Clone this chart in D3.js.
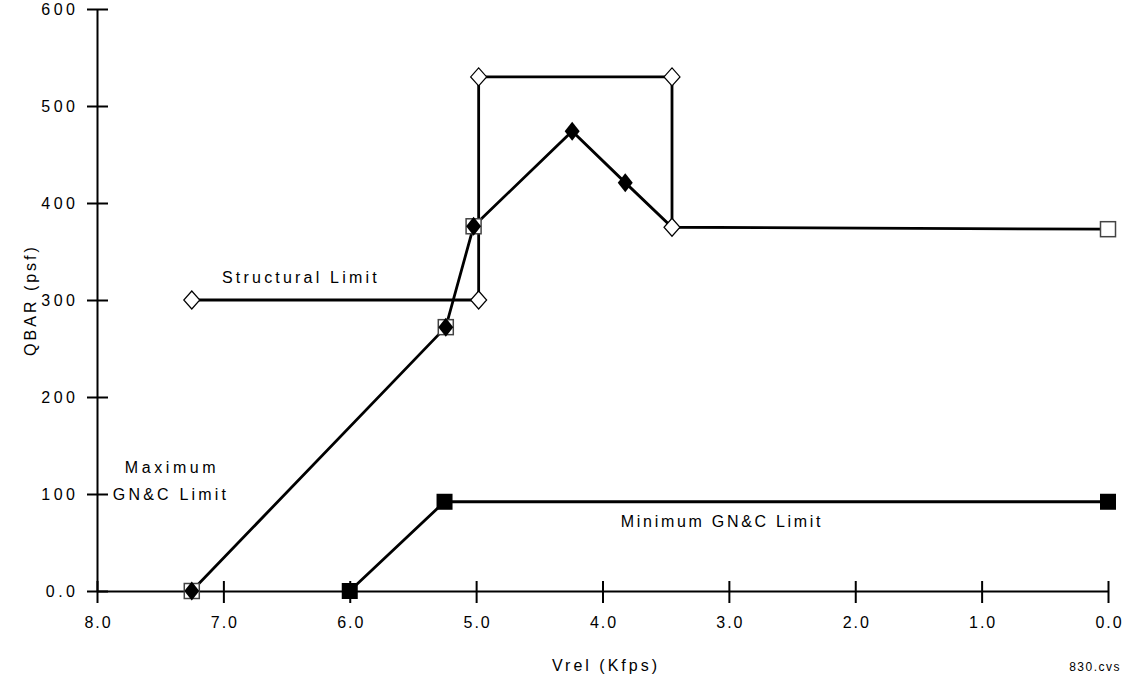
<!DOCTYPE html>
<html><head><meta charset="utf-8">
<script src="https://cdn.jsdelivr.net/npm/d3@7"></script>
<style>
body{margin:0;background:#fff}
text{font-family:"Liberation Sans",Arial,sans-serif;fill:#000}
</style>
</head><body><svg id="c" width="1131" height="678"></svg>
<script>
// ---- data ----
const xTicks = [8, 7, 6, 5, 4, 3, 2, 1, 0];
const yTicks = [0, 100, 200, 300, 400, 500, 600];

const structV = [7.25, 4.98, 4.98, 3.45, 3.45];
const structQ = [300, 300, 530, 530, 375];

const maxV = [7.25, 5.24, 5.02, 4.24, 3.82, 3.45, 0];
const maxQ = [0, 272, 376, 474, 421, 375, 373];
const maxSquareV = [7.25, 5.24, 5.02, 0];
const maxSquareQ = [0, 272, 376, 373];
const maxDiamondV = [7.25, 5.24, 5.02, 4.24, 3.82];
const maxDiamondQ = [0, 272, 376, 474, 421];

const minV = [6.0, 5.25, 0];
const minQ = [0, 92, 92];

const labels = ["Structural Limit", "Maximum", "GN&C Limit", "Minimum GN&C Limit"];

// ---- chart ----
const svg = d3.select("#c");
const x = d3.scaleLinear().domain([8, 0]).range([97, 1108]);
const y = d3.scaleLinear().domain([0, 600]).range([591, 9]);

const fmtY = d => d === 0 ? "0.0" : d3.format("d")(d);
const FF = '"Liberation Sans",Arial,sans-serif';

// x axis
const xls = 2;
const gx = svg.append("g").attr("transform", `translate(0,${y(0)})`)
  .call(d3.axisBottom(x).tickValues(xTicks).tickFormat(d3.format(".1f")).tickSizeOuter(0).tickSize(0));
gx.select(".domain").attr("stroke", "#000").attr("stroke-width", 2);
gx.selectAll(".tick line").attr("y1", -10).attr("y2", 12).attr("stroke", "#000").attr("stroke-width", 2);
gx.selectAll(".tick text").attr("y", 37).attr("dy", 0).attr("x", xls / 2).attr("font-size", 16).attr("letter-spacing", xls)
  .style("font-family", FF);

// y axis
const yls = 3.5;
const gy = svg.append("g").attr("transform", `translate(${x(8)},0)`)
  .call(d3.axisLeft(y).tickValues(yTicks).tickFormat(fmtY).tickSizeOuter(0).tickSize(0));
gy.select(".domain").attr("stroke", "#000").attr("stroke-width", 2);
gy.selectAll(".tick line").attr("x1", -10).attr("x2", 11).attr("stroke", "#000").attr("stroke-width", 2);
gy.selectAll(".tick text").attr("x", -22 + yls).attr("dy", "0.35em").attr("font-size", 16).attr("letter-spacing", yls)
  .style("font-family", FF);

// axis titles
svg.append("text").attr("x", 606).attr("y", 671).attr("text-anchor", "middle")
  .attr("font-size", 16).attr("letter-spacing", 3).text("Vrel (Kfps)");
svg.append("text").attr("transform", `translate(36,${y(300)}) rotate(-90)`).attr("text-anchor", "middle")
  .attr("font-size", 16).attr("letter-spacing", 3).text("QBAR (psf)");
svg.append("text").attr("x", 1121).attr("y", 671).attr("text-anchor", "end")
  .attr("font-size", 12).attr("letter-spacing", 1.5).text("830.cvs");

// lines
const line = d3.line().x(d => x(d[0])).y(d => y(d[1]));
const pts = (vs, qs) => vs.map((v, i) => [v, qs[i]]);
const lineStyle = p => p.attr("fill", "none").attr("stroke", "#000").attr("stroke-width", 2.8).attr("stroke-linejoin", "miter");

svg.append("path").datum(pts(structV, structQ)).attr("d", line).call(lineStyle);
svg.append("path").datum(pts(maxV, maxQ)).attr("d", line).call(lineStyle);
svg.append("path").datum(pts(minV, minQ)).attr("d", line).call(lineStyle);

// markers
const diamond = (w, h) => `M0,${-h}L${w},0L0,${h}L${-w},0Z`;

svg.append("g").selectAll("rect").data(pts(maxSquareV, maxSquareQ)).join("rect")
  .attr("x", d => x(d[0]) - 7.5).attr("y", d => y(d[1]) - 7.5)
  .attr("width", 15).attr("height", 15)
  .attr("fill", "#fff").attr("stroke", "#444").attr("stroke-width", 1.5);

svg.append("g").selectAll("path").data(pts(structV, structQ)).join("path")
  .attr("transform", d => `translate(${x(d[0])},${y(d[1])})`)
  .attr("d", diamond(8, 9)).attr("fill", "#fff").attr("stroke", "#000").attr("stroke-width", 1.2);

svg.append("g").selectAll("path").data(pts(maxDiamondV, maxDiamondQ)).join("path")
  .attr("transform", d => `translate(${x(d[0])},${y(d[1])})`)
  .attr("d", diamond(7.5, 9.5)).attr("fill", "#000");

svg.append("g").selectAll("rect").data(pts(minV, minQ)).join("rect")
  .attr("x", d => x(d[0]) - 8).attr("y", d => y(d[1]) - 8)
  .attr("width", 16).attr("height", 16).attr("fill", "#000");

// annotations
const ann = svg.append("g").attr("font-size", 16).attr("letter-spacing", 3.2);
ann.append("text").attr("x", 222).attr("y", 283).text(labels[0]);
ann.append("text").attr("x", 172).attr("y", 473).attr("text-anchor", "middle").attr("letter-spacing", 3.6).text(labels[1]);
ann.append("text").attr("x", 171).attr("y", 500).attr("text-anchor", "middle").text(labels[2]);
ann.append("text").attr("x", 722).attr("y", 527).attr("text-anchor", "middle").attr("letter-spacing", 2.7).text(labels[3]);
</script>
</body></html>
